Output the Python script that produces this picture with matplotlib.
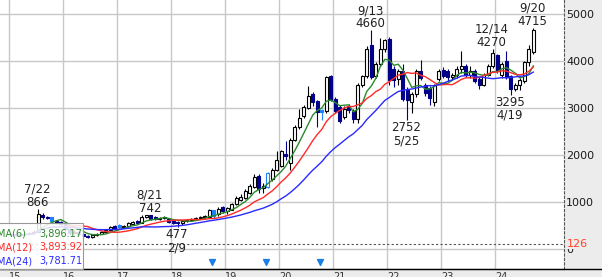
import matplotlib
matplotlib.use("Agg")
import matplotlib.pyplot as plt
import matplotlib.transforms as mtransforms
from matplotlib.lines import Line2D
from matplotlib.patches import Rectangle
import numpy as np
import pandas as pd

# monthly candles, index 0 = Jan 2015
opens = [300, 320, 300, 330, 320, 350, 380, 730, 700, 690, 610, 590,
         560, 430, 350, 380, 330, 290, 260, 300, 330, 380, 410, 510,
         530, 470, 490, 540, 600, 570, 690, 725, 700, 650, 670, 640,
         600, 570, 560, 600, 630, 640, 680, 690, 700, 830, 745, 900,
         820, 850, 960, 1060, 1100, 1210, 1335, 1560, 1300, 1325, 1490, 1690,
         1780, 2040, 1850, 2340, 2600, 2830, 3020, 3300, 3150, 2960, 2940, 3690,
         3210, 3040, 2810, 3050, 2940, 2770, 3510, 3690, 4360, 3690, 3940, 4260,
         4470, 3830, 3620, 3800, 3400, 3130, 3300, 3800, 3510, 3430, 3130, 3620,
         3820, 3800, 3660, 3720, 3830, 3900, 3720, 3800, 3620, 3510, 3720, 3900,
         4130, 3720, 4020, 3690, 3420, 3490, 3580, 3990, 4200]
highs = [340, 330, 350, 360, 380, 420, 866, 770, 720, 700, 630, 610,
         580, 460, 420, 400, 345, 300, 320, 360, 400, 440, 490, 530,
         545, 530, 590, 600, 620, 730, 735, 742, 720, 700, 710, 660,
         640, 600, 620, 650, 680, 700, 720, 740, 860, 850, 900, 930,
         900, 990, 1130, 1180, 1280, 1390, 1600, 1600, 1420, 1650, 1730, 2090,
         2120, 2300, 2380, 2650, 2990, 3080, 3470, 3350, 3180, 2980, 3700, 3720,
         3250, 3080, 3050, 3100, 2980, 3550, 3720, 4320, 4660, 3980, 4490, 4480,
         4520, 3900, 3850, 3950, 3450, 3350, 3830, 4040, 3550, 3480, 3520, 3830,
         3880, 3840, 3760, 3900, 4220, 3950, 3900, 3840, 3680, 3760, 3950, 4270,
         4160, 3990, 4220, 3720, 3550, 3650, 4020, 4350, 4715]
lows = [280, 280, 290, 300, 310, 340, 370, 640, 640, 590, 540, 520,
        400, 300, 330, 300, 260, 240, 250, 290, 320, 360, 390, 420,
        450, 455, 480, 520, 540, 560, 660, 620, 620, 630, 640, 560,
        540, 477, 530, 580, 610, 620, 650, 670, 690, 680, 720, 780,
        760, 830, 940, 1030, 1080, 1180, 1300, 1210, 1200, 1300, 1460, 1670,
        1750, 1900, 1700, 2300, 2560, 2800, 2980, 3050, 2600, 2750, 2900, 3150,
        2900, 2700, 2780, 2900, 2700, 2700, 3450, 3650, 3620, 3650, 3900, 4200,
        3500, 3450, 3500, 3150, 2752, 2900, 3250, 3600, 3260, 3064, 3050, 3580,
        3650, 3580, 3600, 3650, 3760, 3680, 3650, 3540, 3420, 3480, 3700, 3870,
        3750, 3650, 3620, 3295, 3380, 3400, 3550, 3900, 4150]
closes = [320, 300, 330, 320, 350, 380, 745, 690, 670, 610, 570, 540,
          430, 350, 380, 330, 280, 260, 300, 340, 380, 420, 470, 440,
          470, 510, 570, 580, 560, 700, 725, 640, 650, 680, 690, 580,
          570, 560, 600, 630, 650, 680, 690, 720, 830, 720, 870, 815,
          880, 960, 1100, 1120, 1240, 1350, 1540, 1290, 1360, 1620, 1700, 1900,
          2090, 1980, 2340, 2600, 2790, 3040, 3260, 3130, 2915, 2920, 3660, 3190,
          2940, 2730, 2980, 2960, 2770, 3510, 3690, 4270, 3660, 3940, 4260, 4450,
          3600, 3600, 3800, 3200, 3190, 3300, 3800, 3640, 3340, 3230, 3490, 3800,
          3700, 3660, 3720, 3830, 3900, 3720, 3800, 3580, 3510, 3720, 3900, 4190,
          3800, 3940, 3660, 3420, 3490, 3600, 3980, 4260, 4680]
light_blue = [9, 24, 45, 69]      # filled light blue candles
hollow_blue = [57]                # blue outlined candle

year_labels = ["15", "16", "17", "18", "19", "20", "21", "22", "23", "24"]

# (text, month index, price, above/below)
marks = [("7/22\n866", 6, 866, "high"),
         ("8/21\n742", 31, 742, "high"),
         ("477\n2/9", 37, 477, "low"),
         ("9/13\n4660", 80, 4660, "high"),
         ("2752\n5/25", 88, 2752, "low"),
         ("12/14\n4270", 107, 4270, "high"),
         ("3295\n4/19", 111, 3295, "low"),
         ("9/20\n4715", 116, 4715, "high")]

event_months = [44.6, 56.6, 68.6]
ma_names = ["MA(6)", "MA(12)", "MA(24)"]
ma_values = ["3,896.17", "3,893.92", "3,781.71"]
ma_windows = [6, 12, 24]
ma_colors = ["#2a8a2a", "#ff2a2a", "#2a2aff"]
floor_price = 126

W, H = 602, 277
fig = plt.figure(figsize=(W / 100, H / 100), dpi=100, facecolor="#ececec")
ax = fig.add_axes([0, 8 / H, 564 / W, 269 / H])
ax.set_facecolor("white")

x = np.arange(len(closes))
o = np.array(opens, float)
c = np.array(closes, float)
hi = np.array(highs, float)
lo = np.array(lows, float)

face, edge = [], []
for i in range(len(x)):
    if i in light_blue:
        face.append("#1e7fff"); edge.append("#1e7fff")
    elif i in hollow_blue:
        face.append("white"); edge.append("#1e7fff")
    elif c[i] >= o[i]:
        face.append("white"); edge.append("black")
    else:
        face.append("#000088"); edge.append("#000088")

ax.vlines(x, lo, hi, colors=edge, lw=0.8, zorder=2)
body = np.maximum(np.abs(c - o), 15)
ax.bar(x, body, bottom=np.minimum(o, c), width=0.72, color=face,
       edgecolor=edge, linewidth=0.8, zorder=3)

s = pd.Series(closes, dtype=float)
for win, col in zip(ma_windows, ma_colors):
    ax.plot(x, s.rolling(win, min_periods=1).mean(), color=col, lw=1.0, zorder=4)

ax.axhline(floor_price, color="#555555", lw=0.8, ls=(0, (2, 2)), zorder=1.5)

ax.scatter(event_months, [-266] * len(event_months), marker="v", s=18,
           color="#1a7fe6", zorder=5, clip_on=False)

for txt, m, p, kind in marks:
    if kind == "high":
        ax.annotate(txt, xy=(m, p), xytext=(-1, 0), textcoords="offset pixels",
                    ha="center", va="bottom", fontsize=8.5, linespacing=1.0,
                    color="#222222", zorder=6)
    else:
        ax.annotate(txt, xy=(m, p), xytext=(-1, -1), textcoords="offset pixels",
                    ha="center", va="top", fontsize=8.5, linespacing=1.0,
                    color="#222222", zorder=6)

ax.set_xlim(-2.5, 122.83)
ax.set_ylim(-415, 5308)

ax.set_xticks([12 * k - 0.5 for k in range(len(year_labels))])
ax.set_xticklabels(year_labels, ha="left")
shift = mtransforms.ScaledTranslation(0.027, 0, fig.dpi_scale_trans)
for lab in ax.get_xticklabels():
    lab.set_transform(lab.get_transform() + shift)
ax.set_yticks(range(0, 6000, 1000))
ax.yaxis.tick_right()
ax.tick_params(axis="x", length=0, pad=2, labelsize=7, colors="#333333")
ax.tick_params(axis="y", length=0, pad=1.5, labelsize=8, colors="#1a1a1a")
ax.grid(True, color="#c8c8c8", lw=1.0, zorder=0)
ax.set_axisbelow(True)

for side in ["left", "top"]:
    ax.spines[side].set_visible(False)
ax.spines["right"].set_linestyle((0, (2, 2)))
ax.spines["right"].set_color("#555555")
ax.spines["right"].set_linewidth(0.8)
ax.spines["bottom"].set_color("black")

ax.text(1.0, floor_price, "126", transform=ax.get_yaxis_transform(),
        ha="left", va="center", fontsize=8, color="#ff4422",
        bbox=dict(facecolor="#ececec", edgecolor="none", pad=0.3), zorder=7,
        clip_on=False)
ax.texts[-1].set_transform(ax.get_yaxis_transform()
                           + mtransforms.ScaledTranslation(0.025, 0, fig.dpi_scale_trans))

fig.add_artist(Line2D([0, 1], [1 - 269 / H] * 2, color="black", lw=1.0,
                      transform=fig.transFigure))


def fx(px):
    return px / W


def fy(py):
    return 1 - py / H


fig.add_artist(Rectangle((fx(-2), fy(269)), fx(85), 46 / H,
                         transform=fig.transFigure, facecolor="white",
                         alpha=0.85, edgecolor="none", zorder=8))
fig.add_artist(Rectangle((fx(-2), fy(269)), fx(85), 46 / H,
                         transform=fig.transFigure, facecolor="none",
                         edgecolor="#999999", lw=0.8, zorder=9))
for k, (nm, val, col) in enumerate(zip(ma_names, ma_values, ma_colors)):
    yy = fy(233.5 + 13.8 * k)
    fig.text(fx(-3), yy, nm, ha="left", va="center", fontsize=7, color=col, zorder=10)
    fig.text(fx(82), yy, val, ha="right", va="center", fontsize=7, color=col, zorder=10)

fig.savefig("out.png", dpi=100, facecolor=fig.get_facecolor())
